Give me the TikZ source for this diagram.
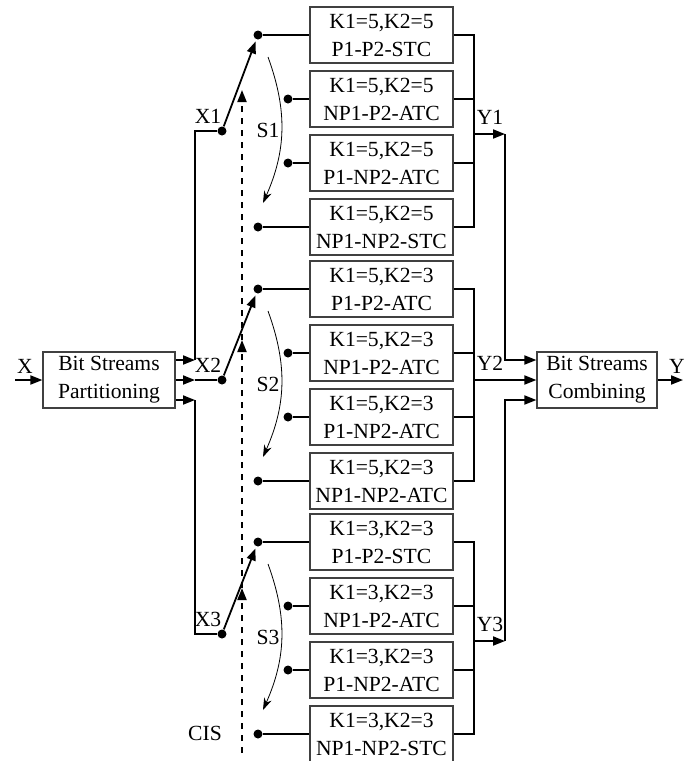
\documentclass[tikz,border=0pt]{standalone}
\usepackage{fontspec}
\setmainfont{Liberation Serif}
\usetikzlibrary{arrows.meta,positioning,calc}

\begin{document}
\begin{tikzpicture}[
  x=0.5pt,y=-0.5pt,
  font=\fontsize{10.8}{14}\selectfont,
  blk/.style={draw=black!75,line width=0.6pt,minimum width=71.5pt,minimum height=28pt,inner sep=0pt,align=center},
  wire/.style={line width=0.9pt},
  arr/.style={wire,-{Triangle[length=6pt,width=4.5pt]}},
  jdot/.style={circle,fill,inner sep=0pt,minimum size=4.5pt},
  lbl/.style={inner sep=0pt}
]
\useasboundingbox (0,0) rectangle (694,761);

% input and output blocks
\node[blk,minimum width=66pt] (part) at (109,380) {Bit Streams\\Partitioning};
\node[blk,minimum width=60pt] (comb) at (597,380) {Bit Streams\\Combining};
\coordinate (xin) at (15,380);
\coordinate (yout) at (683,380);
\draw[arr] (xin) -- (part.west);
\draw[arr] (comb.east) -- (yout);
\node[lbl] at (25,366) {X};
\node[lbl] at (677,366) {Y};

% three switched groups
\foreach \g/\gy/\xy/\ty/\k/\ta/\tb/\tc/\td in {
  1/35/131/134/{K1=5,K2=5}/P1-P2-STC/NP1-P2-ATC/P1-NP2-ATC/NP1-NP2-STC,
  2/289/380/380/{K1=5,K2=3}/P1-P2-ATC/NP1-P2-ATC/P1-NP2-ATC/NP1-NP2-ATC,
  3/542/634/641/{K1=3,K2=3}/P1-P2-STC/NP1-P2-ATC/P1-NP2-ATC/NP1-NP2-STC}{
  \node[blk] (b\g1) at (381.5,\gy) {\k\\\ta};
  \node[blk] (b\g2) at (381.5,\gy+64) {\k\\\tb};
  \node[blk] (b\g3) at (381.5,\gy+128) {\k\\\tc};
  \node[blk] (b\g4) at (381.5,\gy+192) {\k\\\td};
  \node[jdot] (d\g1) at (258,\gy) {};
  \node[jdot] (d\g2) at (288,\gy+64) {};
  \node[jdot] (d\g3) at (288,\gy+128) {};
  \node[jdot] (d\g4) at (258,\gy+192) {};
  \node[jdot] (x\g) at (222,\xy) {};
  \coordinate (y\g) at (474,\ty);
  \foreach \i in {1,...,4}
    \draw[wire] (d\g\i) -- (b\g\i.west);
  \draw[wire] (b\g1.east) -| (y\g) |- (b\g4.east);
  \draw[wire] (b\g2.east) -- (b\g2.east -| y\g);
  \draw[wire] (b\g3.east) -- (b\g3.east -| y\g);
  \draw[arr,shorten >=1pt] (x\g) -- (d\g1);
  \draw[thin,-{Stealth[length=6pt,width=4pt]}] (268,\gy+22) to[bend left=22] (263,\gy+168);
  \node[lbl] at (268,\gy+95) {S\g};
  \node[lbl] at (208,\xy-15) {X\g};
  \node[lbl] at (490,\ty-17) {Y\g};
}

% partitioning outputs
\coordinate (p1) at (195,360);
\coordinate (p2) at (195,380);
\coordinate (p3) at (195,400);
\draw[arr] ([yshift=10pt]part.east) -- (p1);
\draw[arr] (part.east) -- (p2);
\draw[arr] ([yshift=-10pt]part.east) -- (p3);
\draw[wire] (x1) -| (p1);
\draw[wire] (p2) -- (x2);
\draw[wire] (x3) -| (p3);

% combining inputs
\coordinate (q1) at (505,134);
\coordinate (q3) at (505,641);
\draw[arr] (y1) -- (q1);
\draw[arr] (q1) |- ([yshift=10pt]comb.west);
\draw[arr] (y2) -- (comb.west);
\draw[arr] (y3) -- (q3);
\draw[arr] (q3) |- ([yshift=-10pt]comb.west);

% control signal
\coordinate (cis) at (242,753);
\coordinate (c3) at (242,588);
\coordinate (c2) at (242,340);
\coordinate (c1) at (242,90);
\draw[wire,dashed,-{Triangle[length=6pt,width=4.5pt]}] (cis) -- (c3);
\draw[wire,dashed,-{Triangle[length=6pt,width=4.5pt]}] (c3) -- (c2);
\draw[wire,dashed,-{Triangle[length=6pt,width=4.5pt]}] (c2) -- (c1);
\node[lbl] at (205,733) {CIS};
\end{tikzpicture}
\end{document}
